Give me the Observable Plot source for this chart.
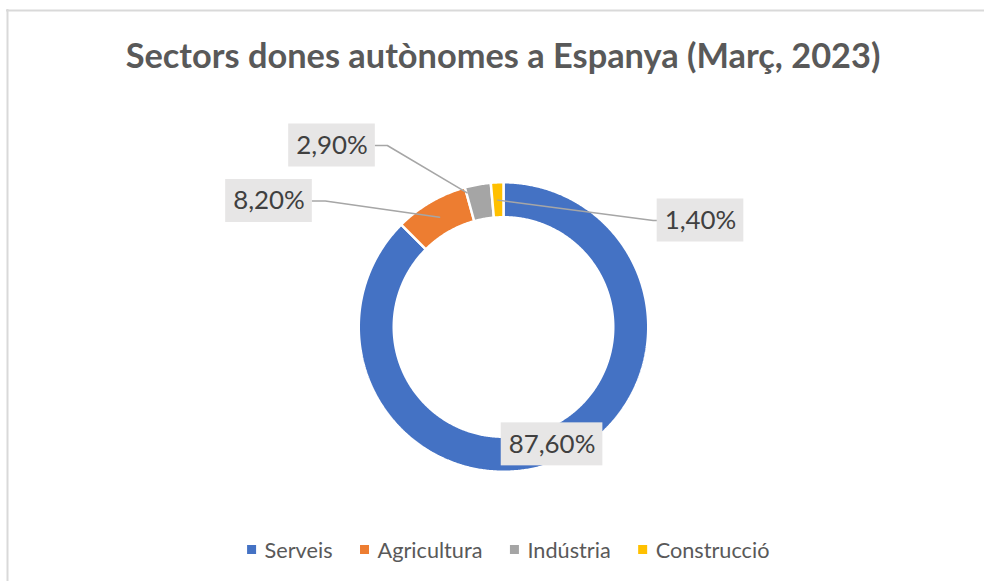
<!DOCTYPE html>
<html>
<head>
<meta charset="utf-8">
<script src="https://cdn.jsdelivr.net/npm/d3@7"></script>
<script src="https://cdn.jsdelivr.net/npm/@observablehq/plot@0.6"></script>
<style>
  html, body { margin: 0; padding: 0; background: #fff; }
  #chart { width: 984px; height: 581px; }
</style>
</head>
<body>
<div id="chart"></div>
<script>
// ---- data ----
const title = "Sectors dones autònomes a Espanya (Març, 2023)";
const categories = ["Serveis", "Agricultura", "Indústria", "Construcció"];
const values = [87.6, 8.2, 2.9, 1.4];
const valueLabels = ["87,60%", "8,20%", "2,90%", "1,40%"];
const colors = ["#4472C4", "#ED7D31", "#A5A5A5", "#FFC000"];

// ---- layout ----
const W = 984, H = 581;
const CX = 503, CY = 326.5, R_OUT = 144.75, R_IN = 109.75, R_LABEL = 127;
const FONT = "Lato";
const placement = {
  "Serveis":     {inside: true},
  "Agricultura": {bx: 268.5, by: 200.5, attach: "right", elbow: 13, t: 0.5, r: R_LABEL},
  "Indústria":   {bx: 331.5, by: 145,   attach: "right", elbow: 12, t: 0.03, r: 139},
  "Construcció": {bx: 700,   by: 220,   attach: "left",  elbow: 4,  t: 0.5, r: R_LABEL}
};

const ctx = document.createElement("canvas").getContext("2d");
function measure(text, weight, size) { ctx.font = `${weight} ${size}px ${FONT}`; return ctx.measureText(text).width; }
function fit(text, weight, target) { return 100 * target / measure(text, weight, 100); }
const titleSize = fit(title, "bold", 755);
const labelSize = fit("87,60%", "normal", 86.7);
const legendSize = fit("Agricultura", "normal", 105);

// ---- geometry derived from data ----
const total = d3.sum(values);
const slices = [];
let acc = 0;
categories.forEach((c, i) => {
  const a0 = acc / total * 2 * Math.PI;
  acc += values[i];
  const a1 = acc / total * 2 * Math.PI;
  slices.push({key: c, a0, a1, label: valueLabels[i]});
});
const pol = (a, r) => [CX + r * Math.sin(a), CY - r * Math.cos(a)];

const ringRows = [];
for (const s of slices) {
  const n = Math.max(2, Math.ceil((s.a1 - s.a0) / (Math.PI / 360)));
  const pts = [];
  for (let k = 0; k <= n; k++) pts.push(pol(s.a0 + (s.a1 - s.a0) * k / n, R_OUT));
  for (let k = n; k >= 0; k--) pts.push(pol(s.a0 + (s.a1 - s.a0) * k / n, R_IN));
  pts.push(pts[0]);
  for (const [x, y] of pts) ringRows.push({key: s.key, x, y});
}

const padX = 7.5, boxH = 43;
const labelRows = [];
const leaderRows = [];
for (const s of slices) {
  const p = placement[s.key];
  let cx, cy;
  if (p.inside) {
    [cx, cy] = pol((s.a0 + s.a1) / 2, R_LABEL);
  } else {
    cx = p.bx; cy = p.by;
  }
  const tw = measure(s.label, "normal", labelSize);
  const bw = tw + 2 * padX;
  labelRows.push({key: s.key, text: s.label, x: cx, y: cy, x1: cx - bw / 2, x2: cx + bw / 2, y1: cy - boxH / 2, y2: cy + boxH / 2});
  if (!p.inside) {
    const ex = p.attach === "right" ? cx + bw / 2 : cx - bw / 2;
    const dir = p.attach === "right" ? 1 : -1;
    const [ax, ay] = pol(s.a0 + (s.a1 - s.a0) * p.t, p.r);
    leaderRows.push({key: s.key, x: ex, y: cy});
    leaderRows.push({key: s.key, x: ex + dir * p.elbow, y: cy});
    leaderRows.push({key: s.key, x: ax, y: ay});
  }
}

// legend
const sq = 9, gapText = 8, gapItem = 28;
const items = categories.map(c => ({key: c, w: measure(c, "normal", legendSize)}));
const legendWidth = d3.sum(items, d => sq + gapText + d.w) + gapItem * (items.length - 1);
let lx = 508 - legendWidth / 2;
const legendY = 550;
const legendRows = items.map(d => {
  const row = {key: d.key, x1: lx, x2: lx + sq, y1: legendY - sq / 2 - 0.5, y2: legendY + sq / 2 - 0.5, tx: lx + sq + gapText, ty: legendY + 1};
  lx += sq + gapText + d.w + gapItem;
  return row;
});

const chart = Plot.plot({
  width: W, height: H,
  marginTop: 0, marginRight: 0, marginBottom: 0, marginLeft: 0,
  x: {domain: [0, W], range: [0, W], axis: null},
  y: {domain: [0, H], range: [0, H], axis: null},
  color: {domain: categories, range: colors},
  style: {background: "white", overflow: "visible"},
  marks: [
    Plot.ruleY([10], {x1: 6, x2: W, stroke: "#D9D9D9", strokeWidth: 2}),
    Plot.ruleX([7], {y1: 9, y2: H, stroke: "#D9D9D9", strokeWidth: 2}),
    Plot.text([title], {x: 502.5, y: 56, text: d => d, fontFamily: FONT, fontWeight: "bold", fontSize: titleSize, fill: "#595959"}),
    Plot.line(ringRows, {x: "x", y: "y", z: "key", fill: "key", stroke: "white", strokeWidth: 2.5, strokeLinejoin: "miter"}),
    Plot.line(leaderRows, {x: "x", y: "y", z: "key", stroke: "#A6A6A6", strokeWidth: 1.5}),
    Plot.rect(labelRows, {x1: "x1", x2: "x2", y1: "y1", y2: "y2", fill: "#E7E6E6"}),
    Plot.text(labelRows, {x: "x", y: "y", text: "text", fontFamily: FONT, fontSize: labelSize, fill: "#404040"}),
    Plot.rect(legendRows, {x1: "x1", x2: "x2", y1: "y1", y2: "y2", fill: "key"}),
    Plot.text(legendRows, {x: "tx", y: "ty", text: "key", textAnchor: "start", fontFamily: FONT, fontSize: legendSize, fill: "#595959"})
  ]
});
document.getElementById("chart").appendChild(chart);
</script>
</body>
</html>
